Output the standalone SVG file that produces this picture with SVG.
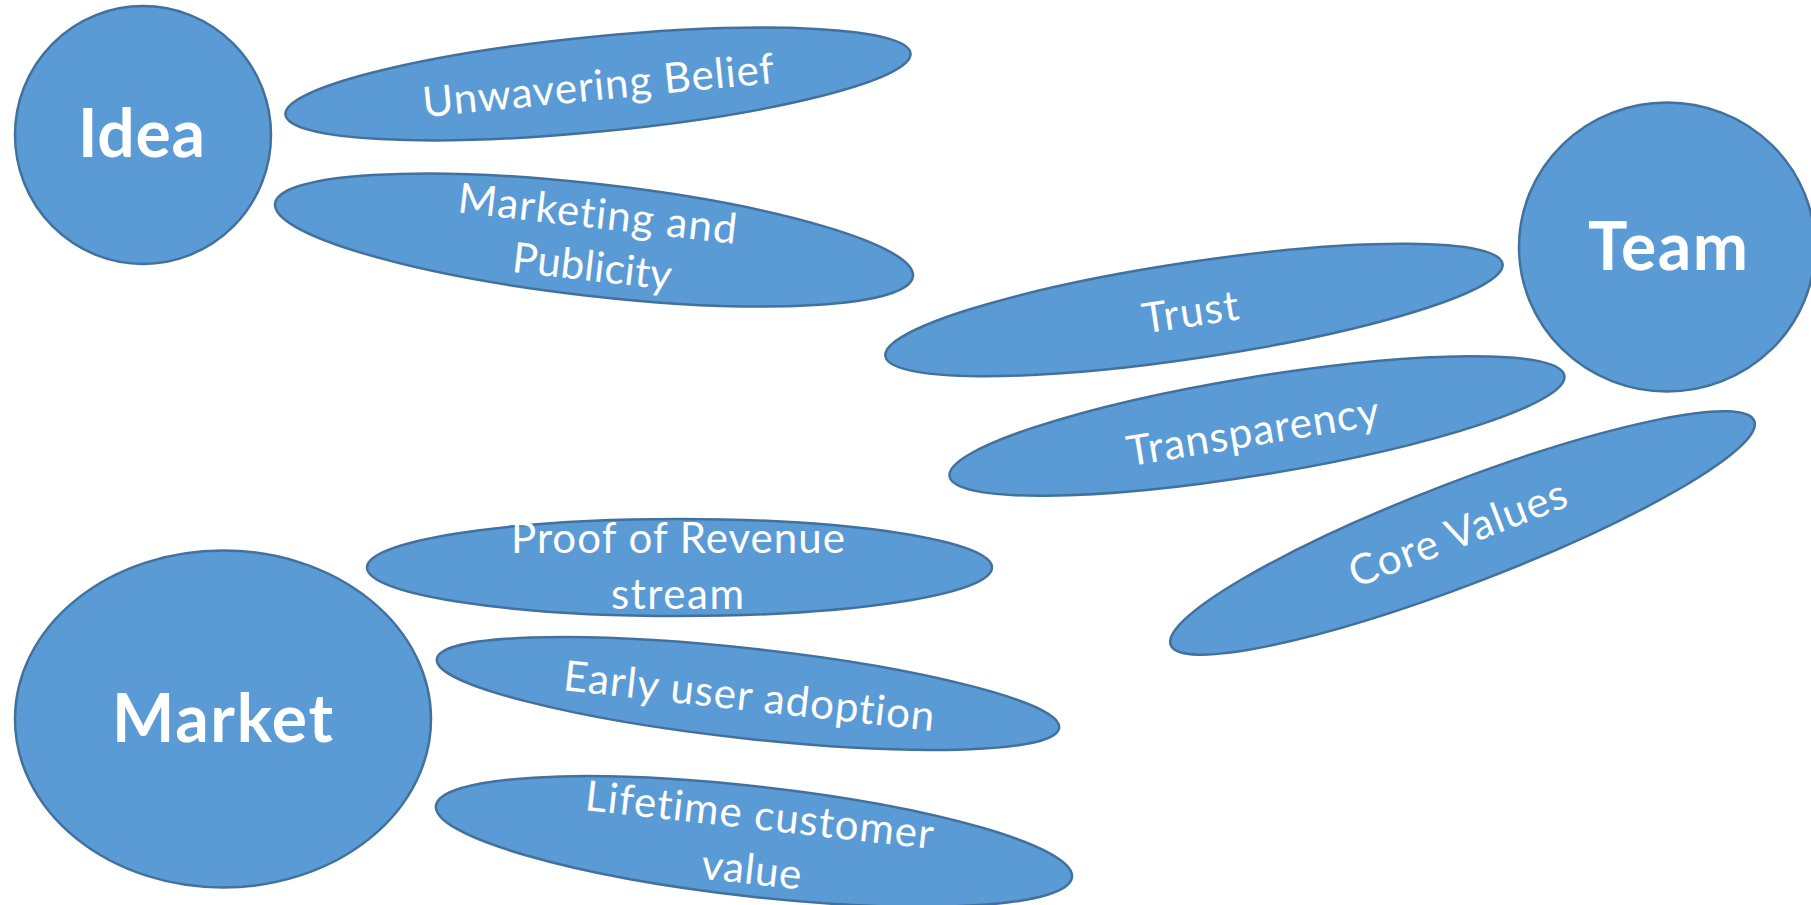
<svg xmlns="http://www.w3.org/2000/svg" width="1811" height="905" viewBox="0 0 1811 905">
<style>
.shape{fill:#5B9BD5;stroke:#41719C;stroke-width:2.5}
.big{font-family:Lato,"Liberation Sans",sans-serif;font-weight:bold;font-size:66px;fill:#FFFFFF;text-anchor:middle;font-variant-ligatures:none;font-feature-settings:"liga" 0,"clig" 0}
.lbl{font-family:Lato,"Liberation Sans",sans-serif;font-size:42px;fill:#FFFFFF;text-anchor:middle;font-variant-ligatures:none;font-feature-settings:"liga" 0,"clig" 0}
</style>
<rect width="1811" height="905" fill="#FFFFFF"/>
<g id="connectors"></g>
<g id="idea">
<ellipse class="shape" cx="143" cy="135" rx="128" ry="129"/>
<text class="big" x="141.5" y="157" textLength="127" lengthAdjust="spacing">Idea</text>
</g>
<g id="team">
<ellipse class="shape" cx="1667" cy="247" rx="148" ry="144.5"/>
<text class="big" x="1668" y="270" textLength="160" lengthAdjust="spacing">Team</text>
</g>
<g id="market">
<ellipse class="shape" cx="223" cy="719" rx="208" ry="168.5"/>
<text class="big" x="222.5" y="741.5" textLength="221" lengthAdjust="spacing">Market</text>
</g>
<g id="unwavering-belief" transform="translate(598 84) rotate(-5.6)">
<ellipse class="shape" cx="0" cy="0" rx="314" ry="47.5"/>
<text class="lbl" x="0" y="16" textLength="353" lengthAdjust="spacing">Unwavering Belief</text>
</g>
<g id="marketing-publicity" transform="translate(594 240) rotate(6.5)">
<ellipse class="shape" cx="0" cy="0" rx="321" ry="56"/>
<text class="lbl" x="0.6" y="-12" textLength="280" lengthAdjust="spacing">Marketing and</text>
<text class="lbl" x="1.2" y="41" textLength="160" lengthAdjust="spacing">Publicity</text>
</g>
<g id="trust" transform="translate(1194 310) rotate(-8.5)">
<ellipse class="shape" cx="0" cy="0" rx="312" ry="48"/>
<text class="lbl" x="-4" y="16" textLength="97" lengthAdjust="spacing">Trust</text>
</g>
<g id="transparency" transform="translate(1257 426) rotate(-9.3)">
<ellipse class="shape" cx="0" cy="0" rx="311.5" ry="49"/>
<text class="lbl" x="-5" y="19" textLength="255" lengthAdjust="spacing">Transparency</text>
</g>
<g id="core-values" transform="translate(1462.5 533) rotate(-21)">
<ellipse class="shape" cx="0" cy="0" rx="312.5" ry="51"/>
<text class="lbl" x="-4.5" y="13" textLength="230" lengthAdjust="spacing">Core Values</text>
</g>
<g id="proof-of-revenue">
<ellipse class="shape" cx="679.5" cy="567.5" rx="312.5" ry="48.5"/>
<text class="lbl" x="678" y="553" textLength="334" lengthAdjust="spacing">Proof of Revenue</text>
<text class="lbl" x="677.5" y="609" textLength="133" lengthAdjust="spacing">stream</text>
</g>
<g id="early-user-adoption" transform="translate(748 693.5) rotate(6.3)">
<ellipse class="shape" cx="0" cy="0" rx="313" ry="45"/>
<text class="lbl" x="1.4" y="17" textLength="373" lengthAdjust="spacing">Early user adoption</text>
</g>
<g id="lifetime-customer-value" transform="translate(754 841.5) rotate(6.4)">
<ellipse class="shape" cx="0" cy="0" rx="320" ry="55"/>
<text class="lbl" x="2.6" y="-12.4" textLength="350" lengthAdjust="spacing">Lifetime customer</text>
<text class="lbl" x="0.8" y="42.7" textLength="100" lengthAdjust="spacing">value</text>
</g>
</svg>
